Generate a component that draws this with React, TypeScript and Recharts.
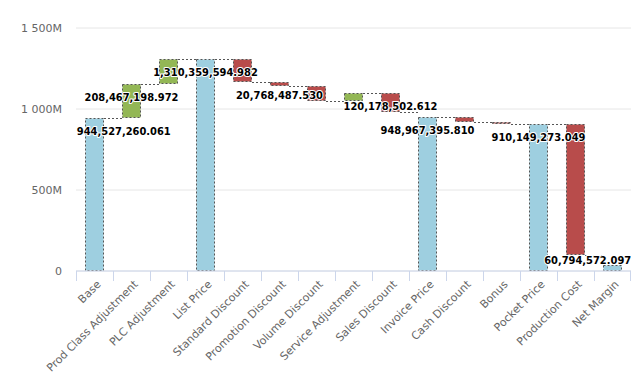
import React from 'react';
import { BarChart, Bar, XAxis, YAxis, CartesianGrid, LabelList } from 'recharts';

const categories = [
  'Base', 'Prod Class Adjustment', 'PLC Adjustment', 'List Price', 'Standard Discount',
  'Promotion Discount', 'Volume Discount', 'Service Adjustment', 'Sales Discount', 'Invoice Price',
  'Cash Discount', 'Bonus', 'Pocket Price', 'Production Cost', 'Net Margin',
];

// where each bar starts and ends (millions)
const startValues = [0, 944.527, 1152.994, 0, 1310.36, 1165.8, 1145.03, 1047.8, 1099.4, 0, 948.967, 921.5, 0, 910.149, 0];
const endValues = [944.527, 1152.994, 1310.36, 1310.36, 1165.8, 1145.03, 1047.8, 1099.4, 979.2, 948.967, 921.5, 910.149, 910.149, 100, 40];
const barKinds = ['sum', 'up', 'up', 'sum', 'down', 'down', 'down', 'up', 'down', 'sum', 'down', 'down', 'sum', 'down', 'sum'];

// only some labels are visible in the original (the rest are hidden by overlap)
const labelTexts = [
  '944,527,260.061', '208,467,198.972', '', '1,310,359,594.982', '', '20,768,487.530', '', '',
  '120,178,502.612', '948,967,395.810', '', '', '910,149,273.049', '', '60,794,572.097',
];

const yTicks = [0, 500, 1000, 1500];

const COLORS: Record<string, string> = { sum: '#9ecfe0', up: '#93b755', down: '#b84c4b' };
const FONT = '"DejaVu Sans", Verdana, sans-serif';
const LABEL_FONT = '"DejaVu Sans Condensed", "DejaVu Sans", sans-serif';

const W = 639;
const H = 374;
const MARGIN = { top: 28, right: 8, left: 0, bottom: 0 };
const Y_AXIS_W = 76;
const X_AXIS_H = 103;
const PLOT_LEFT = MARGIN.left + Y_AXIS_W;
const PLOT_RIGHT = W - MARGIN.right;
const PLOT_BOTTOM = H - MARGIN.bottom - X_AXIS_H;
const BAND = (PLOT_RIGHT - PLOT_LEFT) / categories.length;

const rows = categories.map((name, i) => ({
  name,
  range: [Math.min(startValues[i], endValues[i]), Math.max(startValues[i], endValues[i])],
  end: endValues[i],
  kind: barKinds[i],
}));

const textWidth = (s: string) =>
  s.split('').reduce((w, c) => w + (c === ',' || c === '.' ? 3.6 : 6.9), 0);

const formatY = (v: number) => {
  if (v === 0) return '0';
  if (v >= 1000) return `${Math.floor(v / 1000)} ${String(v % 1000).padStart(3, '0')}M`;
  return `${v}M`;
};

const WaterfallBar = (props: any) => {
  const { x, y, width, height, payload, index } = props;
  const [lo, hi] = payload.range;
  const perUnit = height / (hi - lo || 1);
  const endY = Math.round(y + (hi - payload.end) * perUnit) + 0.5;
  const rx = Math.round(x) + 0.5;
  const ry = Math.round(y) + 0.5;
  const rw = Math.round(width) - 1;
  const rh = Math.max(Math.round(y + height) - Math.round(y) - 1, 1);
  return (
    <g>
      <rect x={rx} y={ry} width={rw} height={rh} fill={COLORS[payload.kind]} stroke="#555" strokeWidth={1} strokeDasharray="2 2" />
      {index < categories.length - 1 && (
        <line x1={x + width} x2={x + BAND} y1={endY} y2={endY} stroke="#555" strokeWidth={1} strokeDasharray="2 2" />
      )}
    </g>
  );
};

const renderLabel = (props: any) => {
  const vb = props.viewBox || props;
  const x = props.x ?? vb.x;
  const y = props.y ?? vb.y;
  const width = props.width ?? vb.width;
  const index = props.index ?? Math.round((x + width / 2 - PLOT_LEFT - BAND / 2) / BAND);
  const text = labelTexts[index];
  if (!text) return null;
  const w = textWidth(text);
  let cx = x + width / 2;
  cx = Math.max(PLOT_LEFT + 1 + w / 2, Math.min(PLOT_RIGHT - w / 2, cx));
  const baseline = Math.min(y + 17, PLOT_BOTTOM - 7.5);
  return (
    <text
      x={cx}
      y={baseline}
      textAnchor="middle"
      fontSize={11}
      fontWeight="bold"
      fontFamily={LABEL_FONT}
      fill="#000"
      stroke="#fff"
      strokeWidth={2}
      strokeLinejoin="round"
      paintOrder="stroke"
    >
      {text}
    </text>
  );
};

const CategoryTick = (props: any) => {
  const { x, y, payload, index } = props;
  const left = Math.round(x - BAND / 2) + 0.5;
  const right = Math.round(x + BAND / 2) - 0.5;
  const tx = x + 7;
  const ty = y + 14;
  return (
    <g>
      <line x1={left} x2={left} y1={y} y2={y + 10} stroke="#ccd6eb" />
      {index === categories.length - 1 && <line x1={right} x2={right} y1={y} y2={y + 10} stroke="#ccd6eb" />}
      <text x={tx} y={ty} textAnchor="end" transform={`rotate(-45 ${tx} ${ty})`} fontSize={11} fontFamily={FONT} fill="#666">
        {payload.value}
      </text>
    </g>
  );
};

export default function App() {
  return (
    <div style={{ width: W, height: H, fontFamily: FONT, background: '#fff' }}>
      <style>{'body{margin:0}'}</style>
      <BarChart width={W} height={H} data={rows} margin={MARGIN} barCategoryGap={0}>
        <CartesianGrid vertical={false} stroke="#e6e6e6" />
        <XAxis
          dataKey="name"
          height={X_AXIS_H}
          interval={0}
          tickLine={false}
          tickSize={0}
          tickMargin={0}
          axisLine={{ stroke: '#ccd6eb' }}
          tick={<CategoryTick />}
        />
        <YAxis
          width={Y_AXIS_W}
          domain={[0, 1500]}
          ticks={yTicks}
          tickFormatter={formatY}
          axisLine={false}
          tickLine={false}
          tickSize={0}
          tickMargin={14}
          tick={{ fill: '#666', fontSize: 11, fontFamily: FONT }}
        />
        <Bar dataKey="range" barSize={19} shape={<WaterfallBar />} isAnimationActive={false}>
          <LabelList dataKey="end" content={renderLabel} />
        </Bar>
      </BarChart>
    </div>
  );
}
